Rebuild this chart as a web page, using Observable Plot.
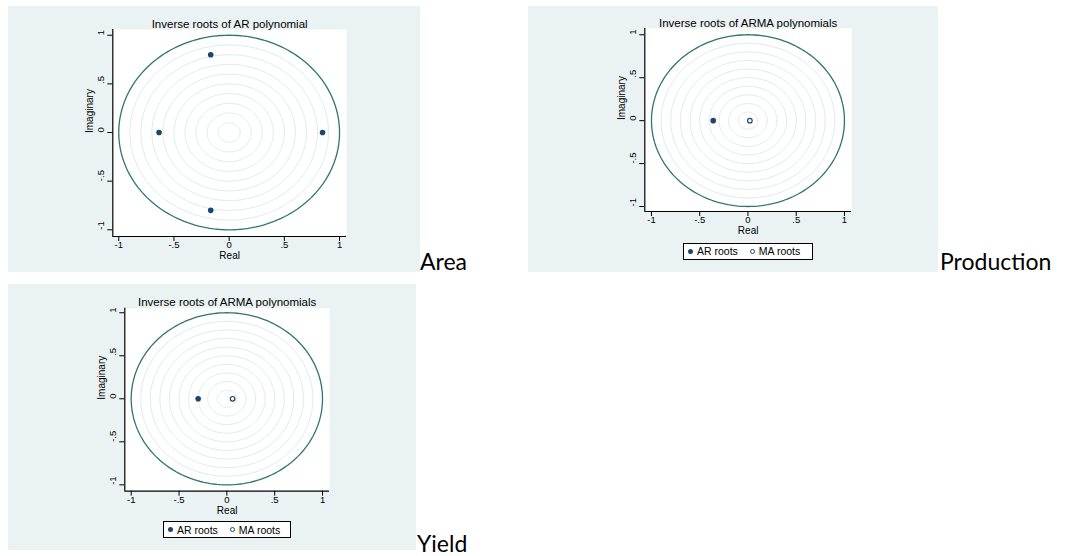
<!DOCTYPE html>
<html>
<head>
<meta charset="utf-8">
<script src="https://cdn.jsdelivr.net/npm/d3@7"></script>
<script src="https://cdn.jsdelivr.net/npm/@observablehq/plot@0.6"></script>
<style>
  body { margin: 0; background: #ffffff; width: 1069px; height: 556px; position: relative; overflow: hidden; }
  .panel { position: absolute; }
  .tag { position: absolute; font-family: Lato, "Open Sans", sans-serif; font-size: 23px; color: #000; line-height: 1; }
  .legend { position: absolute; box-sizing: border-box; border: 1px solid #000; background: #fff;
            font-family: "Liberation Sans", Arial, sans-serif; font-size: 10.5px; display: flex; align-items: center; }
  .legend span.sym { display: inline-block; width: 5px; height: 5px; border-radius: 50%; box-sizing: border-box; margin-right: 4px; }
</style>
</head>
<body>
<script>
// ---- data ----
const tickValues = [-1, -0.5, 0, 0.5, 1];
const tickLabels = ["-1", "-.5", "0", ".5", "1"];
const ringRadii = [0.1, 0.2, 0.3, 0.4, 0.5, 0.6, 0.7, 0.8, 0.9, 1.0];

const areaARre = [-0.167, -0.635, 0.846, -0.167];
const areaARim = [0.80, 0.0, 0.0, -0.80];

const prodARre = [-0.36];
const prodARim = [0.0];
const prodMAre = [0.02];
const prodMAim = [0.0];

const yieldARre = [-0.30];
const yieldARim = [0.0];
const yieldMAre = [0.06];
const yieldMAim = [0.0];

// ---- helpers ----
const navy = "#1a476f";
const darkRing = "#2e766e";
const lightRing = "#deeceb";
const bg = "#eaf2f3";

const angles = d3.range(0, 361, 2);
const ringPts = ringRadii.flatMap(r => angles.map(a => ({r, x: r * Math.cos(a * Math.PI / 180), y: r * Math.sin(a * Math.PI / 180)})));
const fmt = v => tickLabels[tickValues.indexOf(v)];
const zip = (re, im) => re.map((v, i) => ({re: v, im: im[i]}));

function panel(o) {
  const marks = [
    Plot.frame({fill: "white", stroke: null}),
    Plot.line(ringPts.filter(d => d.r < 1), {x: "x", y: "y", z: "r", stroke: lightRing, strokeWidth: 1}),
    Plot.line(ringPts.filter(d => d.r === 1), {x: "x", y: "y", z: "r", stroke: darkRing, strokeWidth: 1.3}),
    Plot.ruleX([o.xd[0]], {stroke: "black", strokeWidth: 1.2}),
    Plot.ruleY([o.yd[0]], {stroke: "black", strokeWidth: 1.2}),
    Plot.axisX({ticks: tickValues, tickSize: 5, tickPadding: 0, tickFormat: fmt, label: null, fontSize: 9.5}),
    Plot.axisY({ticks: tickValues, tickSize: 5, tickFormat: () => "", label: null}),
    Plot.text(tickValues, {y: d => d, text: fmt, frameAnchor: "left", dx: -11.5, rotate: -90, fontSize: 9.5}),
    Plot.text([o.title], {frameAnchor: "top", lineAnchor: "bottom", dy: -2, fontSize: 11.5}),
    Plot.text(["Real"], {frameAnchor: "bottom", lineAnchor: "top", dy: 15.5, fontSize: 10}),
    Plot.text(["Imaginary"], {frameAnchor: "left", dx: -23, rotate: -90, fontSize: 10}),
    Plot.dot(o.ar, {x: "re", y: "im", r: 2.8, fill: navy, stroke: null})
  ];
  if (o.ma) marks.push(Plot.dot(o.ma, {x: "re", y: "im", r: 2.3, fill: "white", stroke: navy, strokeWidth: 1.2}));
  const svg = Plot.plot({
    width: o.w, height: o.h,
    marginLeft: o.ml, marginRight: o.mr, marginTop: o.mt, marginBottom: o.mb,
    x: {domain: o.xd}, y: {domain: o.yd},
    style: {background: bg, fontFamily: "'Liberation Sans', Arial, sans-serif", fontSize: "10px", color: "black", overflow: "visible"},
    marks
  });
  const div = document.createElement("div");
  div.className = "panel";
  div.style.left = o.left + "px";
  div.style.top = o.top + "px";
  div.appendChild(svg);
  document.body.appendChild(div);
}

function legend(left, top, w, h, arX, maX) {
  const d = document.createElement("div");
  d.className = "legend";
  Object.assign(d.style, {left: left + "px", top: top + "px", width: w + "px", height: h + "px"});
  d.innerHTML = `<span class="sym" style="background:${navy};margin-left:${arX}px"></span><span>AR roots</span>` +
                `<span class="sym" style="border:1.2px solid ${navy};background:#fff;margin-left:${maX}px"></span><span>MA roots</span>`;
  document.body.appendChild(d);
}

function tag(text, left, top) {
  const d = document.createElement("div");
  d.className = "tag";
  d.textContent = text;
  d.style.left = left + "px";
  d.style.top = top + "px";
  document.body.appendChild(d);
}

// Area
panel({left: 8, top: 6, w: 412, h: 266, ml: 104.3, mr: 74, mt: 23, mb: 36,
       xd: [-1.054, 1.063], yd: [-1.069, 1.059], title: "Inverse roots of AR polynomial",
       ar: zip(areaARre, areaARim)});
// Production
panel({left: 528, top: 6, w: 410, h: 266, ml: 116.3, mr: 87, mt: 22, mb: 61,
       xd: [-1.069, 1.073], yd: [-1.058, 1.073], title: "Inverse roots of ARMA polynomials",
       ar: zip(prodARre, prodARim), ma: zip(prodMAre, prodMAim)});
legend(683, 243, 130, 16.5, 4, 12);
// Yield
panel({left: 8, top: 284, w: 408, h: 266, ml: 116.3, mr: 87, mt: 23.7, mb: 59.3,
       xd: [-1.067, 1.073], yd: [-1.074, 1.053], title: "Inverse roots of ARMA polynomials",
       ar: zip(yieldARre, yieldARim), ma: zip(yieldMAre, yieldMAim)});
legend(163, 521, 128, 17, 4, 12);

tag("Area", 420, 250);
tag("Production", 940, 250);
tag("Yield", 417, 532);
</script>
</body>
</html>
